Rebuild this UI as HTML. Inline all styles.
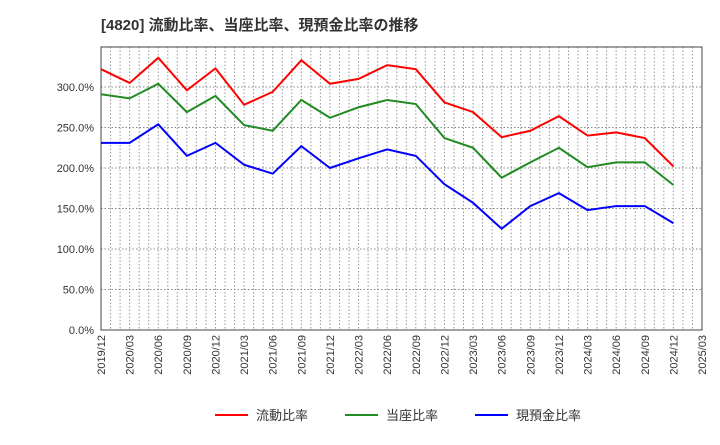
<!DOCTYPE html>
<html><head><meta charset="utf-8"><style>
body{margin:0;background:#fff;font-family:"Liberation Sans","Noto Sans CJK JP",sans-serif}
</style></head><body>
<svg id="c" width="720" height="440" xmlns="http://www.w3.org/2000/svg">
<text x="101" y="30" font-size="15" font-weight="bold" fill="#333" font-family="Liberation Sans,Noto Sans CJK JP,sans-serif">[4820]  流動比率、当座比率、現預金比率の推移</text>
<g id="grid"></g><g id="axes"></g><g id="series"></g><g id="legend"></g>
</svg>
<script>
const categories=["2019/12","2020/03","2020/06","2020/09","2020/12","2021/03","2021/06","2021/09","2021/12","2022/03","2022/06","2022/09","2022/12","2023/03","2023/06","2023/09","2023/12","2024/03","2024/06","2024/09","2024/12"];
const tickLabels=["2019/12","2020/03","2020/06","2020/09","2020/12","2021/03","2021/06","2021/09","2021/12","2022/03","2022/06","2022/09","2022/12","2023/03","2023/06","2023/09","2023/12","2024/03","2024/06","2024/09","2024/12","2025/03"];
const yTicks=[0,50,100,150,200,250,300];
const currentRatio=[322,305,336,296,323,278,294,333,304,310,327,322,281,269,238,246,264,240,244,237,202];
const quickRatio=[291,286,304,269,289,253,246,284,262,275,284,279,237,225,188,207,225,201,207,207,179];
const cashRatio=[231,231,254,215,231,204,193,227,200,212,223,215,180,157,125,153,169,148,153,153,132];
const names=["流動比率","当座比率","現預金比率"];
const colors=["#ff0000","#228b22","#0000ff"];
const L=101,R=702,T=47,B=330,NS="http://www.w3.org/2000/svg";
const qw=(R-L)/(tickLabels.length-1);
const x=i=>L+i*qw, y=v=>B-v*(B-87)/300;
function mk(t,a,p){const e=document.createElementNS(NS,t);for(const k in a)e.setAttribute(k,a[k]);p.appendChild(e);return e;}
const g=document.getElementById('grid'),ax=document.getElementById('axes'),s=document.getElementById('series'),lg=document.getElementById('legend');
for(let m=1;m<(tickLabels.length-1)*3;m++){const xx=L+m*qw/3;const l=mk('line',{x1:xx,x2:xx,y1:T,y2:B,stroke:'#999','stroke-dasharray':'1.5,2','stroke-width':1},g);}
yTicks.forEach(v=>{if(v>0){const l=mk('line',{x1:L,x2:R,y1:y(v),y2:y(v),stroke:'#888','stroke-dasharray':'1.5,2'},g);}
const t=mk('text',{x:L-7,y:y(v)+4,'text-anchor':'end','font-size':11,fill:'#333'},ax);t.textContent=v.toFixed(1)+'%';});
const fr=mk('rect',{x:L,y:T,width:R-L,height:B-T,fill:'none',stroke:'#444'},ax);
tickLabels.forEach((c,i)=>{const t=mk('text',{transform:`translate(${x(i)+4},${B+5}) rotate(-90)`,'text-anchor':'end','font-size':11,fill:'#333'},ax);t.textContent=c;});
[currentRatio,quickRatio,cashRatio].forEach((d,k)=>{const p=mk('polyline',{points:d.map((v,i)=>x(i)+','+y(v)).join(' '),fill:'none',stroke:colors[k],'stroke-width':2},s);
const lx=[215,345,475][k];const ll=mk('line',{x1:lx,x2:lx+33,y1:415,y2:415,stroke:colors[k],'stroke-width':2},lg);
const lt=mk('text',{x:lx+41,y:420,'font-size':13,fill:'#333'},lg);lt.textContent=names[k];});
</script>
</body></html>
